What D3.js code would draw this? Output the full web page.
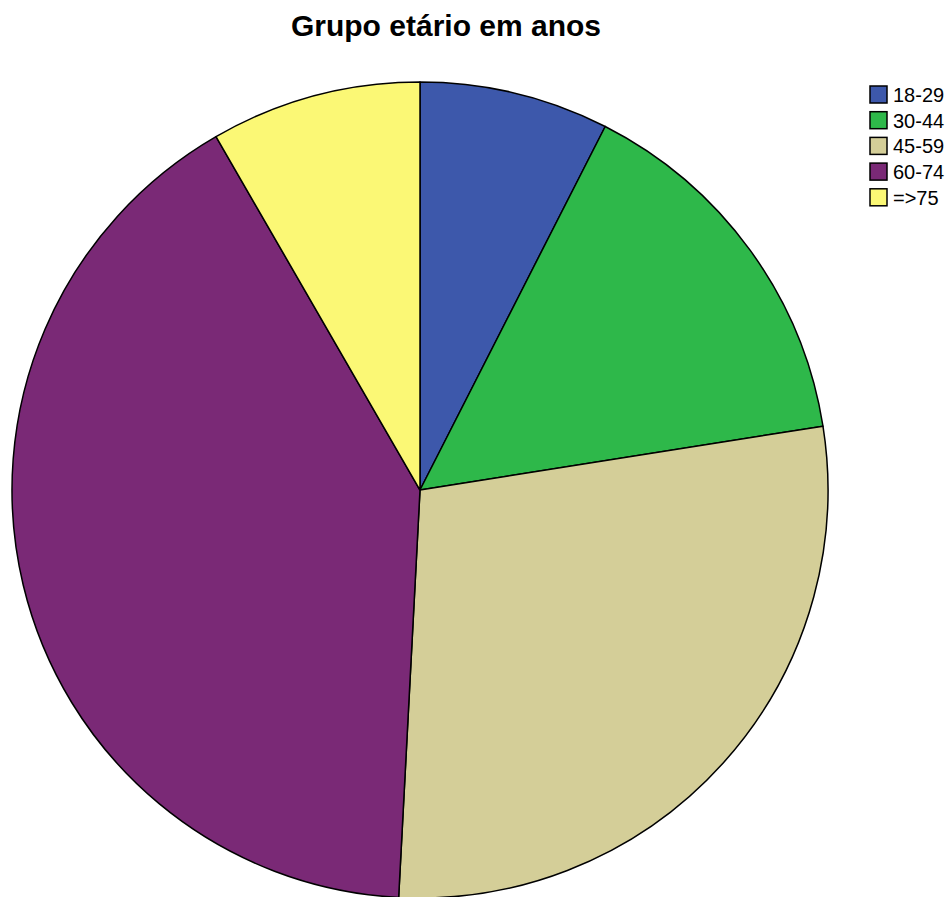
<!DOCTYPE html>
<html>
<head>
<meta charset="utf-8">
<script src="https://cdn.jsdelivr.net/npm/d3@7"></script>
<style>
  html, body { margin: 0; padding: 0; background: #ffffff; }
  svg { display: block; }
</style>
</head>
<body>
<svg id="chart" width="952" height="897"></svg>
<script>
// Age groups and respondent counts
const categories = ["18-29", "30-44", "45-59", "60-74", "=>75"];
const counts = [9, 18, 34, 49, 10];
const colors = ["#3d58ab", "#2eb84a", "#d4ce98", "#7a2976", "#fbf875"];
const title = "Grupo etário em anos";

const svg = d3.select("#chart");
const cx = 420, cy = 490, radius = 408;

const data = categories.map((c, i) => ({ label: c, value: counts[i], color: colors[i] }));

const pie = d3.pie().value(d => d.value).sort(null);
const arc = d3.arc().innerRadius(0).outerRadius(radius);

svg.append("text")
  .attr("x", 446)
  .attr("y", 36)
  .attr("text-anchor", "middle")
  .attr("font-family", "Liberation Sans, Arial, sans-serif")
  .attr("font-weight", "bold")
  .attr("font-size", 30)
  .attr("fill", "#000")
  .text(title);

const g = svg.append("g").attr("transform", `translate(${cx},${cy})`);
g.selectAll("path")
  .data(pie(data))
  .join("path")
  .attr("d", arc)
  .attr("fill", d => d.data.color)
  .attr("stroke", "#000")
  .attr("stroke-width", 1.5)
  .attr("stroke-linejoin", "round");

// Legend
const legend = svg.append("g").attr("transform", "translate(870,86)");
const row = legend.selectAll("g")
  .data(data)
  .join("g")
  .attr("transform", (d, i) => `translate(0,${i * 25.7})`);
row.append("rect")
  .attr("width", 17)
  .attr("height", 17)
  .attr("fill", d => d.color)
  .attr("stroke", "#000")
  .attr("stroke-width", 1.5);
row.append("text")
  .attr("x", 23)
  .attr("y", 16)
  .attr("font-family", "Liberation Sans, Arial, sans-serif")
  .attr("font-size", 20)
  .attr("fill", "#000")
  .text(d => d.label);
</script>
</body>
</html>
